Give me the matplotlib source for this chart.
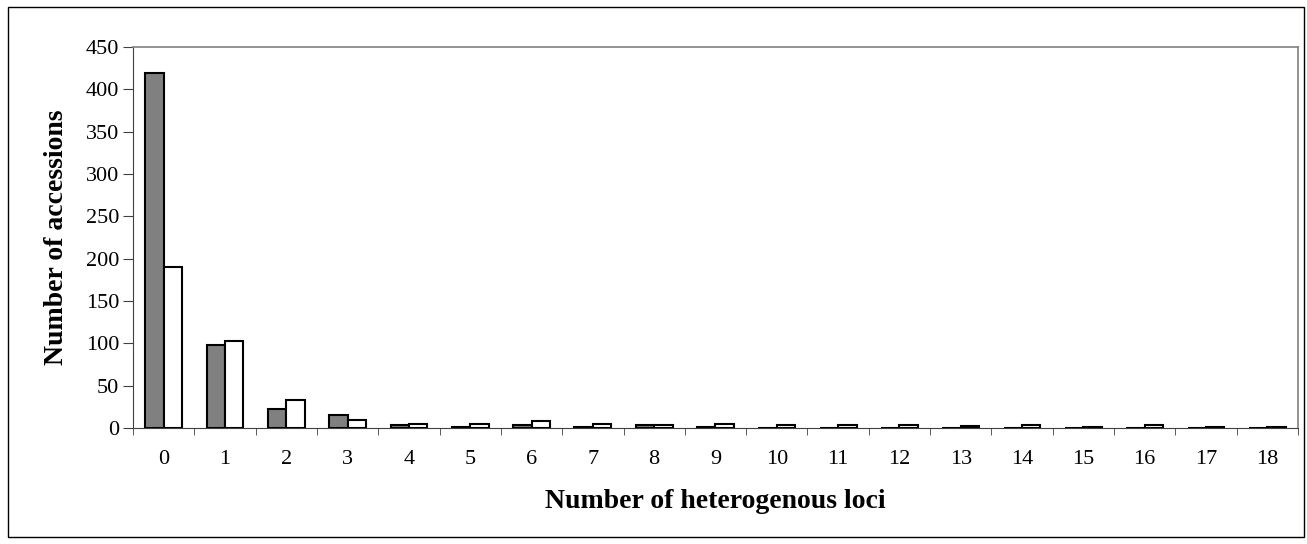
import matplotlib as mpl
import matplotlib.pyplot as plt
from matplotlib.patches import Rectangle
import numpy as np

mpl.rc("font", family="serif", serif=["Liberation Serif", "DejaVu Serif"])

loci = list(range(19))
grey_counts = [419, 98, 22, 15, 3, 1, 4, 1, 3, 1, 0, 0, 0, 0, 0, 0, 0, 0, 0]
white_counts = [190, 103, 33, 9, 5, 5, 8, 5, 3, 5, 4, 3, 4, 2, 3, 1, 3, 1, 1]

fig = plt.figure(figsize=(13.07, 5.44), dpi=100)
fig.patches.append(Rectangle((8 / 1307, 7 / 544), 1296 / 1307, 530 / 544,
                             transform=fig.transFigure, fill=False,
                             edgecolor="black", linewidth=1.0))
ax = fig.add_axes([133 / 1307, 1 - 428 / 544, 1165 / 1307, 381 / 544])

x = np.arange(len(loci))
w = 0.30
ax.bar(x - w / 2, grey_counts, w, color="#808080", edgecolor="black", linewidth=1.5)
ax.bar(x + w / 2, white_counts, w, color="white", edgecolor="black", linewidth=1.5)

ax.set_xlim(-0.5, 18.5)
ax.set_ylim(0, 450)
ax.set_yticks(np.arange(0, 451, 50))
ax.set_xticks(x)
ax.set_xticklabels([str(v) for v in loci])
ax.set_xticks(np.arange(-0.5, 18.6, 1), minor=True)
ax.tick_params(axis="x", which="major", length=0, pad=16, labelsize=16)
ax.tick_params(axis="x", which="minor", length=5, direction="out", color="#404040")
ax.tick_params(axis="y", length=7, direction="out", labelsize=16, color="#404040", pad=3)

for side in ("top", "right"):
    ax.spines[side].set_color("#808080")
    ax.spines[side].set_linewidth(1.2)
ax.spines["left"].set_color("#404040")
ax.spines["bottom"].set_color("#404040")

ax.set_xlabel("Number of heterogenous loci", fontsize=20, fontweight="bold", labelpad=14)
ax.set_ylabel("Number of accessions", fontsize=20, fontweight="bold", labelpad=12)

fig.savefig("out.png", dpi=100)
